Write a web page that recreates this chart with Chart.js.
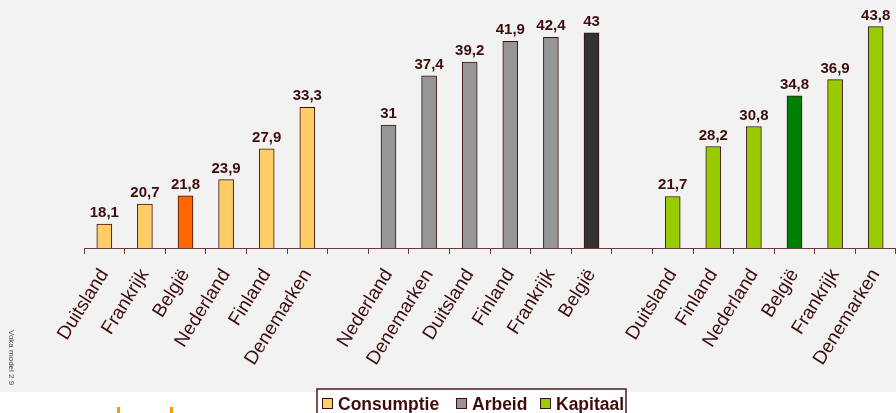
<!DOCTYPE html>
<html>
<head>
<meta charset="utf-8">
<script src="https://cdn.jsdelivr.net/npm/chart.js@4.4.0/dist/chart.umd.min.js"></script>
<style>
  html, body { margin: 0; padding: 0; background: #fff; }
  #wrap { width: 896px; height: 413px; }
</style>
</head>
<body>
<div id="wrap"><canvas id="chart" width="896" height="413"></canvas></div>
<script>
// Landen per groep (in volgorde van de grafiek)
const consumptieLanden = ['Duitsland', 'Frankrijk', 'België', 'Nederland', 'Finland', 'Denemarken'];
const arbeidLanden = ['Nederland', 'Denemarken', 'Duitsland', 'Finland', 'Frankrijk', 'België'];
const kapitaalLanden = ['Duitsland', 'Finland', 'Nederland', 'België', 'Frankrijk', 'Denemarken'];

// Waarden
const consumptieWaarden = [18.1, 20.7, 21.8, 23.9, 27.9, 33.3];
const arbeidWaarden = [31, 37.4, 39.2, 41.9, 42.4, 43];
const kapitaalWaarden = [21.7, 28.2, 30.8, 34.8, 36.9, 43.8];

const reeksNamen = ['Consumptie', 'Arbeid', 'Kapitaal'];
const reeksKleuren = ['#ffcc66', '#969696', '#99cc00'];
const belgieKleuren = ['#ff6600', '#333333', '#008000'];

const TEKST = '#3d0c0c';
const LIJN = '#6b3a3a';

// categorieën: drie groepen met een lege plaats ertussen
const categories = [...consumptieLanden, '', ...arbeidLanden, '', ...kapitaalLanden];

function spreid(groep, waarden) {
  const data = new Array(categories.length).fill(null);
  const start = groep * 7;
  waarden.forEach((v, i) => { data[start + i] = v; });
  return data;
}

function kleuren(groep, landen) {
  const out = new Array(categories.length).fill(reeksKleuren[groep]);
  const start = groep * 7;
  landen.forEach((l, i) => {
    if (l === 'België') out[start + i] = belgieKleuren[groep];
  });
  return out;
}

const datasets = [
  { label: reeksNamen[0], data: spreid(0, consumptieWaarden), backgroundColor: kleuren(0, consumptieLanden) },
  { label: reeksNamen[1], data: spreid(1, arbeidWaarden), backgroundColor: kleuren(1, arbeidLanden) },
  { label: reeksNamen[2], data: spreid(2, kapitaalWaarden), backgroundColor: kleuren(2, kapitaalLanden) },
].map(ds => Object.assign(ds, {
  borderColor: '#3d1010',
  borderWidth: 1,
  borderSkipped: 'bottom',
  barThickness: 15,
  grouped: false,
}));

// achtergrond: grijs vlak met wit eronder
const achtergrond = {
  id: 'achtergrond',
  beforeDraw(chart) {
    const ctx = chart.ctx;
    ctx.save();
    ctx.fillStyle = '#ffffff';
    ctx.fillRect(0, 0, chart.width, chart.height);
    ctx.fillStyle = '#f2f2f2';
    ctx.fillRect(0, 0, chart.width, 392);
    ctx.restore();
  }
};

// waarden boven de staven
const waardeLabels = {
  id: 'waardeLabels',
  afterDatasetsDraw(chart) {
    const ctx = chart.ctx;
    ctx.save();
    ctx.font = 'bold 15px "Liberation Sans", Arial, sans-serif';
    ctx.fillStyle = TEKST;
    ctx.textAlign = 'center';
    ctx.textBaseline = 'alphabetic';
    chart.data.datasets.forEach((ds, di) => {
      const meta = chart.getDatasetMeta(di);
      meta.data.forEach((bar, i) => {
        const v = ds.data[i];
        if (v === null) return;
        ctx.fillText(String(v).replace('.', ','), bar.x, bar.y - 7);
      });
    });
    ctx.restore();
  }
};

// legende in kader + bronvermelding
const legendeKader = {
  id: 'legendeKader',
  afterDraw(chart) {
    const ctx = chart.ctx;
    ctx.save();
    ctx.fillStyle = '#ffffff';
    ctx.fillRect(317, 389, 309, 30);
    ctx.strokeStyle = '#4a1a1a';
    ctx.lineWidth = 1.5;
    ctx.strokeRect(317, 389, 309, 30);

    ctx.font = 'bold 17.5px "Liberation Sans", Arial, sans-serif';
    ctx.textBaseline = 'alphabetic';
    const swatchX = [322, 456, 540];
    reeksNamen.forEach((naam, i) => {
      const x = swatchX[i];
      ctx.fillStyle = reeksKleuren[i];
      ctx.fillRect(x + 0.5, 398.5, 10, 10);
      ctx.strokeStyle = '#3d1010';
      ctx.lineWidth = 1;
      ctx.strokeRect(x + 0.5, 398.5, 10, 10);
      ctx.fillStyle = TEKST;
      ctx.fillText(naam, x + 16, 410);
    });

    // kleine verticale bronvermelding links
    ctx.save();
    ctx.translate(8, 330);
    ctx.rotate(Math.PI / 2);
    ctx.font = '8px "Liberation Sans", Arial, sans-serif';
    ctx.fillStyle = '#444444';
    ctx.textBaseline = 'middle';
    ctx.fillText('Voka model 2 9', 0, -3);
    ctx.restore();

    // afgesneden oranje streepjes onderaan
    ctx.fillStyle = '#ff9900';
    ctx.fillRect(117, 407, 3, 6);
    ctx.fillRect(170, 407, 3, 6);
    ctx.restore();
  }
};

new Chart(document.getElementById('chart'), {
  type: 'bar',
  data: { labels: categories, datasets },
  options: {
    responsive: false,
    animation: false,
    devicePixelRatio: 1,
    layout: { padding: { left: 84, right: 0, top: 2, bottom: 0 } },
    plugins: {
      legend: { display: false },
      tooltip: { enabled: false },
    },
    scales: {
      x: {
        offset: true,
        grid: {
          display: true,
          drawOnChartArea: false,
          offset: true,
          tickLength: 6,
          color: LIJN,
        },
        border: { display: true, color: LIJN, width: 1 },
        ticks: {
          autoSkip: false,
          minRotation: 58,
          maxRotation: 58,
          padding: 11,
          color: TEKST,
          font: { family: '"Liberation Sans", Arial, sans-serif', size: 19 },
        },
        afterFit(scale) {
          scale.height = 165;
          scale.paddingLeft = 0;
          scale.paddingRight = 0;
        },
      },
      y: {
        display: false,
        min: 15,
        max: 47,
      }
    }
  },
  plugins: [achtergrond, waardeLabels, legendeKader]
});
</script>
</body>
</html>
